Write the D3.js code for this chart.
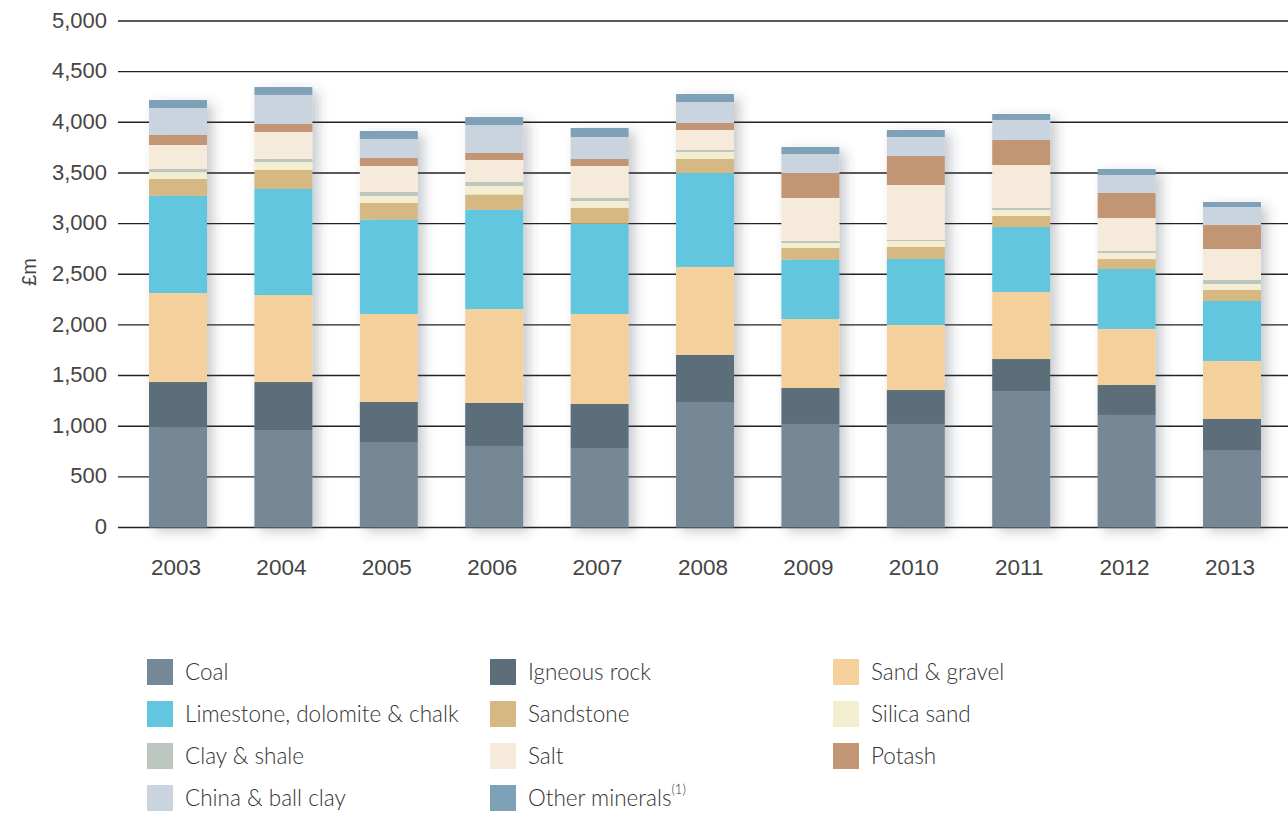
<!DOCTYPE html>
<html>
<head>
<meta charset="utf-8">
<script src="https://cdn.jsdelivr.net/npm/d3@7"></script>
<style>
  html, body { margin: 0; padding: 0; background: #fff; }
  svg { display: block; }
</style>
</head>
<body>
<svg id="chart" width="1288" height="814"></svg>
<script>
const years = ["2003","2004","2005","2006","2007","2008","2009","2010","2011","2012","2013"];
const coal       = [985, 962, 844, 805, 785, 1239, 1022, 1022, 1347, 1111, 765];
const igneous    = [451, 474, 395, 424, 434, 464, 355, 335, 316, 296, 306];
const sandGravel = [879, 859, 869, 928, 889, 869, 681, 642, 662, 553, 573];
const limestone  = [960, 1047, 931, 980, 891, 927, 586, 652, 641, 592, 592];
const sandstone  = [165, 187, 164, 150, 155, 139, 115, 118, 109, 98, 109];
const silica     = [69, 79, 69, 84, 69, 69, 49, 59, 59, 60, 59];
const clay       = [30, 30, 40, 40, 30, 20, 20, 10, 20, 19, 39];
const salt       = [237, 266, 257, 217, 316, 197, 425, 543, 424, 326, 306];
const potash     = [99, 79, 79, 69, 69, 69, 246, 286, 247, 247, 237];
const china      = [266, 287, 187, 276, 217, 207, 188, 188, 198, 178, 178];
const other      = [79, 78, 79, 79, 89, 79, 69, 69, 59, 59, 49];
const yTicks = [0, 500, 1000, 1500, 2000, 2500, 3000, 3500, 4000, 4500, 5000];

const seriesNames = ["Coal","Igneous rock","Sand & gravel","Limestone, dolomite & chalk","Sandstone","Silica sand","Clay & shale","Salt","Potash","China & ball clay","Other minerals"];
const seriesValues = [coal, igneous, sandGravel, limestone, sandstone, silica, clay, salt, potash, china, other];
const seriesColors = ["#768896","#5b6e79","#f4d19c","#62c6df","#d6b882","#f4eed0","#bcc6bf","#f6eadb","#c29674","#c9d4de","#7ea1b8"];

const rows = years.map((y, i) => {
  const o = { year: y };
  seriesNames.forEach((n, k) => { o[n] = seriesValues[k][i]; });
  return o;
});

const svg = d3.select("#chart");
const defs = svg.append("defs");
const f = defs.append("filter").attr("id", "shadow")
  .attr("x", "-30%").attr("y", "-10%").attr("width", "170%").attr("height", "130%");
f.append("feDropShadow").attr("dx", 6).attr("dy", 4).attr("stdDeviation", 6)
  .attr("flood-color", "#3a4450").attr("flood-opacity", 0.28);

const x = d3.scaleBand().domain(years)
  .range([125.3, 1284.7]).paddingInner(0.45).paddingOuter(0.225);
const y = d3.scaleLinear().domain([0, 5000]).range([527.5, 21]);

// gridlines
svg.append("g").selectAll("line").data(yTicks).join("line")
  .attr("x1", 118).attr("x2", 1288)
  .attr("y1", d => y(d)).attr("y2", d => y(d))
  .attr("stroke", "#222").attr("stroke-width", 1.4);

// y tick labels
svg.append("g").selectAll("text").data(yTicks).join("text")
  .attr("x", 107).attr("y", d => y(d))
  .attr("dy", "0.3em")
  .attr("text-anchor", "end")
  .attr("font-family", "'Liberation Sans', Arial, sans-serif")
  .attr("font-size", 22).attr("fill", "#454545")
  .text(d => d3.format(",")(d));

// y label
svg.append("text")
  .attr("transform", "translate(36,272) rotate(-90)")
  .attr("text-anchor", "middle")
  .attr("font-family", "'Liberation Sans', Arial, sans-serif")
  .attr("font-size", 20).attr("fill", "#454545")
  .text("£m");

// stacked bars
const stack = d3.stack().keys(seriesNames);
const stacked = stack(rows);

const barGroups = svg.append("g").selectAll("g").data(years).join("g")
  .attr("filter", "url(#shadow)");
barGroups.each(function(yr, i) {
  const g = d3.select(this);
  stacked.forEach((layer, k) => {
    const d = layer[i];
    g.append("rect")
      .attr("x", x(yr))
      .attr("width", x.bandwidth())
      .attr("y", y(d[1]))
      .attr("height", y(d[0]) - y(d[1]))
      .attr("fill", seriesColors[k]);
  });
});

// x axis labels
const xAxis = d3.axisBottom(x).tickSize(0).tickPadding(0);
const xg = svg.append("g").attr("transform", "translate(-2,575)").call(xAxis);
xg.select(".domain").remove();
xg.selectAll("text")
  .attr("y", 0).attr("dy", 0)
  .attr("font-family", "'Liberation Sans', Arial, sans-serif")
  .attr("font-size", 22.5).attr("fill", "#454545");

// legend
const legendCols = [147, 490, 833];
const legendRows = [672, 714, 756, 798];
const legend = svg.append("g");
seriesNames.forEach((n, k) => {
  const cx = legendCols[k % 3];
  const cy = legendRows[Math.floor(k / 3)];
  legend.append("rect")
    .attr("x", cx).attr("y", cy - 13)
    .attr("width", 26).attr("height", 26)
    .attr("fill", seriesColors[k]);
  const t = legend.append("text")
    .attr("x", cx + 38).attr("y", cy)
    .attr("dy", "0.35em")
    .attr("font-family", "Lato, 'Open Sans', sans-serif")
    .attr("font-weight", 300)
    .attr("font-size", 22.5).attr("fill", "#333")
    .text(n);
  if (n === "Other minerals") {
    t.append("tspan").attr("font-size", 13).attr("dy", "-0.9em").text("(1)");
  }
});
</script>
</body>
</html>
